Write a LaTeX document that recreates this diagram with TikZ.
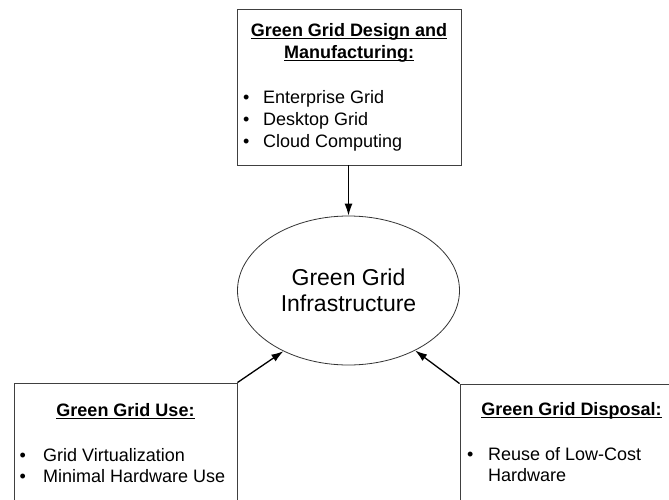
\documentclass[tikz,border=0pt]{standalone}
\usepackage{fontspec}
\setmainfont{Liberation Sans}
\usetikzlibrary{shapes.geometric,arrows.meta}
\newcommand\ulbox[1]{\setbox0\hbox{#1}\rlap{\rule[-3pt]{\wd0}{1.2pt}}\box0}
\begin{document}
\begin{tikzpicture}[x=1pt,y=-1pt,
  boxst/.style={draw=black!75, line width=0.9pt, fill=white, inner sep=0},
  headst/.style={anchor=base, inner sep=0, font=\fontsize{18}{22}\selectfont\bfseries},
  itemst/.style={anchor=base west, inner sep=0, font=\fontsize{18}{22}\selectfont},
  arr/.style={-{Latex[length=12pt,width=8pt]}, line width=1.3pt}]
\useasboundingbox (0,0) rectangle (669,500);
\clip (0,0) rectangle (669,500);
\fill[white] (0,0) rectangle (669,500);
% boxes
\node[boxst, minimum width=224pt, minimum height=156pt] (design) at (349,87) {};
\node[boxst, minimum width=223pt, minimum height=157pt] (usebox) at (125.5,461.5) {};
\node[boxst, minimum width=223pt, minimum height=157pt] (disposal) at (571.5,462.5) {};
% ellipse
\node[draw=black!80, line width=0.8pt, ellipse, minimum width=222pt, minimum height=149pt,
      inner sep=0, align=center, font=\fontsize{23}{26.5}\selectfont] (infra) at (348.5,290.5)
      {Green Grid\\Infrastructure};
% arrows
\draw[arr] (infra.north |- design.south) -- (infra.north);
\draw[arr] (usebox.north east) -- (infra.223);
\draw[arr] (disposal.north west) -- (infra.318);
% top box text
\node[headst] (dh1) at (349,36.5) {\ulbox{Green Grid Design and}};
\node[headst] (dh2) at (349,58.5) {\ulbox{Manufacturing:}};
\node[itemst] (db1) at (243,103.5) {•};
\node[itemst] (dt1) at (263,103.5) {Enterprise Grid};
\node[itemst] (db2) at (243,125.5) {•};
\node[itemst] (dt2) at (263,125.5) {Desktop Grid};
\node[itemst] (db3) at (243,147.5) {•};
\node[itemst] (dt3) at (263,147.5) {Cloud Computing};
% left box text
\node[headst] (uh) at (125.5,416) {\ulbox{Green Grid Use:}};
\node[itemst] (ub1) at (19.5,461) {•};
\node[itemst] (ut1) at (43,461) {Grid Virtualization};
\node[itemst] (ub2) at (19.5,482.5) {•};
\node[itemst] (ut2) at (43,482.5) {Minimal Hardware Use};
% right box text
\node[headst] (rh) at (571.5,415) {\ulbox{Green Grid Disposal:}};
\node[itemst] (rb1) at (467,460.5) {•};
\node[itemst] (rt1) at (488,460.5) {Reuse of Low-Cost};
\node[itemst] (rt2) at (488,481.5) {Hardware};
\end{tikzpicture}
\end{document}
